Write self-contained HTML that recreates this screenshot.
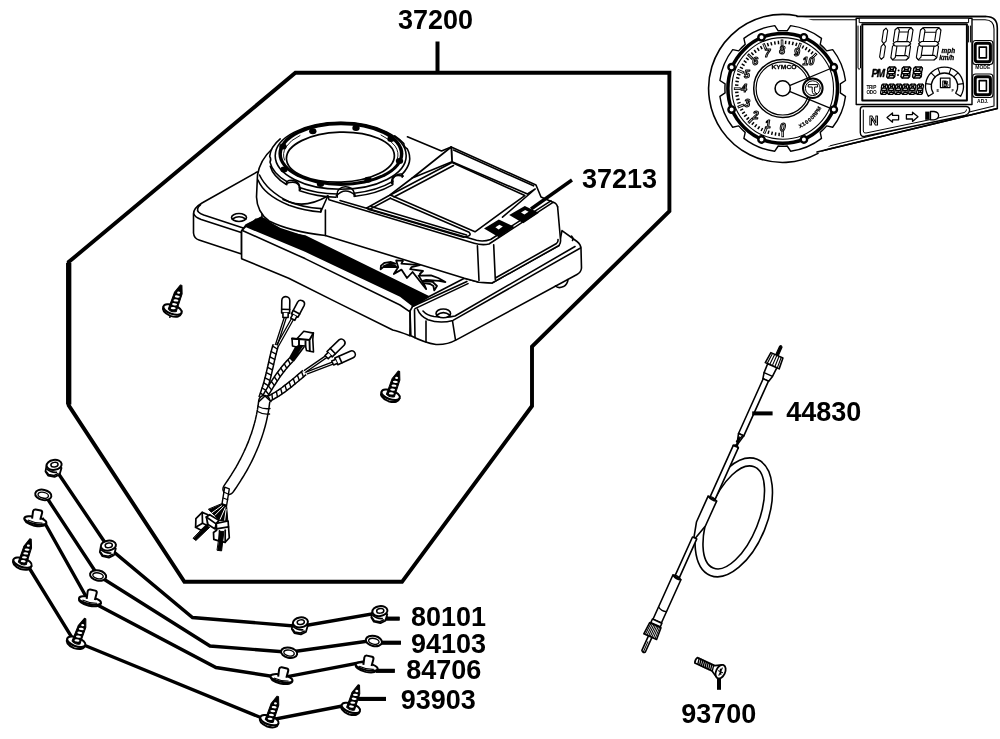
<!DOCTYPE html>
<html><head><meta charset="utf-8"><title>Parts diagram</title>
<style>
html,body{margin:0;padding:0;background:#fff;}
body{width:1000px;height:739px;overflow:hidden;font-family:"Liberation Sans",sans-serif;}
svg{display:block;will-change:transform;transform:translateZ(0);}
.lb{font-family:"Liberation Sans",sans-serif;font-weight:bold;fill:#000;}
.t{fill:none;stroke:#000;stroke-width:1.6;stroke-linejoin:round;stroke-linecap:round;}
.w{fill:#fff;stroke:#000;stroke-width:1.6;stroke-linejoin:round;stroke-linecap:round;}
.k{fill:#000;stroke:none;}
.dn{font-family:"Liberation Sans",sans-serif;font-weight:bold;font-style:italic;font-size:10.5px;fill:#fff;stroke:#000;stroke-width:1;}
</style></head>
<body>
<svg width="1000" height="739" viewBox="0 0 1000 739">
<rect width="1000" height="739" fill="#fff"/>
<g id="unit" class="t">
<!-- base plate back-left -->
<path class="w" d="M257,172 L202,203 Q193.5,208 193.5,214 L193.5,233 Q194,238.5 199,240 L241.5,254 L241.5,231 L246,225 L262,217 L262,172 Z"/>
<path d="M193.7,213.8 Q195,217.3 201.2,219.5 L242,232.7"/>
<path d="M200.5,204.8 Q195.8,208.5 198.5,212 Q200,213.6 203.7,215 L244,228.2"/>
<ellipse class="w" cx="239" cy="217.5" rx="7.5" ry="4"/>
<path d="M232.5,219 Q239,214.5 245.7,219"/>
<!-- front long block -->
<path class="w" d="M241.6,231 L246.5,225.4 L305,236 L428.7,296.8 L412.5,306.6 L410,335.8 Q398,331 392.7,330 L337.4,302.6 L288.7,278.2 L241.6,258.7 Z"/>
<!-- black ribbed band -->
<path class="k" d="M245.5,228 L246.5,224.6 L250,222.4 L252.5,221.6 L255.4,218.4 L258,218.6 L261,216.6 L264.4,218.1 Q272,224 280.6,227.9 L305,236 L428.7,296.8 L412.5,306.6 L400,296.8 L305,251.8 L245.5,227 Z"/>
<path d="M242.4,230.5 L305,258.6 L400,305 L410,311.8"/>
<!-- right corner piece of base -->
<path class="w" d="M412.5,306.6 L428.7,296.8 L464.4,278.2 L479,282.2 L492,283 L559,245.5 L562,230.6 L577,241.5 Q581,244.5 581,249 L581.5,268 Q581,272.5 577,274.5 L456.3,339.9 Q447,345 436,344.5 Q425,343 410.9,335.8 L410,311 Z"/>
<path d="M410,310.6 L410,335.8"/>
<path d="M414.5,309.8 L415,337.8"/>
<path d="M412.5,306.6 L466.9,281.4"/>
<path d="M415,308.6 L468,283.6"/>
<path d="M417.4,309 Q420,316 428,319.8 Q440,324 453,320.4 L580.5,248"/>
<path d="M426,321 L426,342"/>
<path d="M452.5,321 L455.5,340"/>
<path d="M423,311 Q427,315.5 434,316.5 Q447,318 455,316 L575,246.5"/>
<ellipse class="w" cx="443.3" cy="313.4" rx="7.3" ry="4.4"/>
<path d="M437,315 Q443.3,310.3 449.8,315"/>
<path d="M555.5,285.8 Q558,289 563.5,286.6 Q567.5,284.2 568,279.6"/>
<path d="M571.5,236 Q574,238.5 572.5,240.5"/>
<!-- gauge cylinder housing body -->
<path d="M272,149 Q260,160 257.5,175 L256.5,197 Q257,212 269,221 Q290,231.5 325.3,235.5 L325.3,200 L400,200 L400,130 L300,125 Z" style="fill:#fff;stroke:none"/>
<path d="M272,149 Q260,160 257.5,175 L256.5,197 Q257,212 269,221 Q290,231.5 325.3,235.5"/>
<!-- main housing body -->
<path d="M325.3,200 L325.3,235.5 L464.4,278.2 L479,282.2 L492,283 L559,245.5 Q561,243 560.5,239.5 L557.6,206.8 Q556,203 553,202.3 L541,197 L536,185 L451.2,147 L441.5,151 L407.4,136.8 L395,133 L360,160 Z" style="fill:#fff;stroke:none"/>
<path d="M325.3,235.5 L464.4,278.2 L479,282.2 L492,283 L559,245.5 Q561,243 560.5,239.5 L557.6,206.8"/>
<!-- cylinder lip -->
<path d="M258,180 Q264,195 289,205.3 Q305,211 320.7,212 L327.8,196"/>
<path d="M259.5,175 Q267,191 289,201.8 Q306,208.5 327.8,196" />
<path d="M320.7,212 L321.3,208.6 Q303,208 283,199.5"/>
<path d="M325.4,210 L325.4,235.5"/>
<!-- top surface front edges -->
<path d="M327.8,196 L329,199.8 L474.2,243.2 Q482,245.6 489,244 L553,202.3 Q556.5,203 557.6,206.8"/>
<path d="M340,200.5 L476.5,240.3 Q483.5,242 490.6,239.5 L550.9,200.8"/>
<path d="M477.4,245.7 L479,280.5"/>
<path d="M493.7,244.9 L495.3,279.5"/>
<path d="M495.8,277.8 L556.5,243.5 Q558.3,242 558,239.5"/>
<!-- housing top back edge from gauge -->
<path d="M407.4,136.8 L441.5,151 L451.2,147"/>
<!-- display frame -->
<path d="M451.2,147 L536,185 L541,197 L553,202.3"/>
<path d="M453.5,150 L533.5,185.8"/>
<path d="M451.5,148 L452,161.7 L527.5,194 L535.2,189 L502.5,217.2"/>
<path class="w" d="M451.2,147 L412.3,178 L452,161.7 Z"/>
<!-- LCD -->
<path class="w" d="M452,162.5 L524.8,195.6 L475,231.8 L390.3,195 Z"/>
<path d="M453.5,165.5 L394,197"/>
<path d="M412.3,178 L388.7,195.8 L366.8,208"/>
<!-- lower strip panel -->
<path d="M390.3,198.2 L469.1,232.3 Q471.5,234.5 468.5,236 L463.4,237.2 L369.2,209.6 L366.8,208"/>
<path d="M371,206.5 L466.5,235"/>
<path d="M369.2,209.6 L390.3,198.2"/>
<!-- buttons -->
<path class="k" d="M484,228.4 L498.8,219.4 L514.4,226.9 L498.8,237.3 Z"/>
<path class="k" d="M509.2,215 L524.8,206 L539,212.7 L523.3,223.2 Z"/>
<path d="M495.4,227.2 L499.4,224.8 L502.8,226.6 L498.6,229.4 Z" style="fill:#fff;stroke:none"/>
<path d="M521,212.4 L525.2,209.9 L528.6,211.7 L524.4,214.5 Z" style="fill:#fff;stroke:none"/>
</g>

<g id="ring" class="t">
<path d="M394.8,135.8 A70,36 0 0 1 403.8,143.6 A8,6.5 0 0 0 407.4,149.0 A70,36 0 0 1 402.2,174.1 A8,6.5 0 0 0 392.8,181.4 A70,36 0 0 1 354.2,193.2 A8,6.5 0 0 0 337.2,194.0 A70,36 0 0 1 299.4,187.5 A8,6.5 0 0 0 286.8,181.6 A70,36 0 0 1 270.0,162.1 A8,6.5 0 0 0 269.7,156.4 A70,36 0 0 1 280.2,138.9 L340,125 Z" style="fill:#fff;stroke:none"/>
<path d="M394.8,135.8 A70,36 0 0 1 403.8,143.6 A8,6.5 0 0 0 407.4,149.0 A70,36 0 0 1 402.2,174.1 A8,6.5 0 0 0 392.8,181.4 A70,36 0 0 1 354.2,193.2 A8,6.5 0 0 0 337.2,194.0 A70,36 0 0 1 299.4,187.5 A8,6.5 0 0 0 286.8,181.6 A70,36 0 0 1 270.0,162.1 A8,6.5 0 0 0 269.7,156.4 A70,36 0 0 1 280.2,138.9"/>
<path d="M392.0,185.1 A70,36 0 0 1 355.3,196.3"/>
<path d="M335.9,197.2 A70,36 0 0 1 300.5,191.0"/>
<path d="M286.0,184.3 A70,36 0 0 1 270.3,166.2"/>
<path d="M299.4,190.7 L299.4,187.5 M286.8,184.8 L286.8,181.6"/>
<path d="M300.4,189.5 Q298.8,178.8 285.8,183.6"/>
<path d="M354.2,196.4 L354.2,193.2 M337.2,197.2 L337.2,194.0"/>
<path d="M355.2,195.2 Q344.9,186.4 336.2,196.0"/>
<path d="M402.2,177.3 L402.2,174.1 M392.8,184.6 L392.8,181.4"/>
<path d="M403.2,176.1 Q390.5,173.1 391.8,183.4"/>
<ellipse cx="340.7" cy="155.8" rx="65.5" ry="33.5"/>
<ellipse class="k" cx="340.9" cy="153.8" rx="62.5" ry="32.1"/>
<ellipse cx="340.9" cy="154" rx="59" ry="28.7" style="fill:#fff;stroke:none"/>
<path d="M284.5,160 A57,27.4 0 0 1 300,135.5 M381,135 A57,27.4 0 0 1 397.3,159" style="stroke-width:.9"/>
<ellipse class="w" cx="340.4" cy="157.1" rx="54" ry="25" transform="rotate(-1.8 340.4 157.1)" style="stroke-width:1.7"/>
<ellipse class="k" cx="312.8" cy="131.3" rx="3.7" ry="3"/>
<ellipse class="k" cx="356" cy="128" rx="3.7" ry="3"/>
<ellipse class="k" cx="391" cy="139" rx="3.7" ry="3"/>
<ellipse class="k" cx="399.5" cy="161" rx="3.7" ry="3"/>
<ellipse class="k" cx="368" cy="179.7" rx="3.7" ry="3"/>
<ellipse class="k" cx="320.5" cy="184" rx="3.7" ry="3"/>
<ellipse class="k" cx="284" cy="169.5" rx="3.7" ry="3"/>
<ellipse class="k" cx="283" cy="146.5" rx="3.7" ry="3"/>
</g>

<g id="logo" style="fill:#fff;stroke:#000;stroke-width:1.8;stroke-linejoin:round">
<path d="M380.6,269.2 L381.0,265.6 L384.6,262.8 L391.0,262.0 L395.4,263.6 L389.4,264.0 L383.8,266.0 L395.0,265.6 L396.6,267.2 L388.6,266.8 L383.0,267.2 Z"/>
<path d="M396.2,260.4 L403.0,260.8 L401.4,263.6 L419.8,265.2 L411.4,267.2 L410.2,269.2 L423.0,271.0 L419.8,274.0 L426.2,289.2 L412.6,272.0 L407.0,278.0 L401.4,269.6 L393.8,274.0 L398.2,267.2 Z"/>
<path d="M418.6,275.6 L431.0,275.4 L438.2,278.0 L445.4,282.0 L439.0,280.8 L426.2,279.8 L423.0,280.8 L432.6,281.8 L437.0,286.0 L434.2,290.4 L433.4,286.0 L430.2,284.0 L423.0,282.8 Z"/>
</g>

<g id="harness" class="t">
<path d="M284.3,317.2 L275.4,344.7 M286.3,317.8 L277.4,345.3" style="stroke-width:1.3"/>
<path d="M291.2,319.0 L276.6,345.0 M293.2,320.0 L278.6,346.0" style="stroke-width:1.3"/>
<path d="M328.0,354.1 L304.4,370.4 M329.2,355.9 L305.6,372.2" style="stroke-width:1.3"/>
<path d="M334.2,361.3 L306.6,371.9 M335.0,363.3 L307.4,373.9" style="stroke-width:1.3"/>
<path d="M300,345 L290.5,360 M302.5,345.5 L292,361 M297,345 L289.5,358.5 M304,347 L293.5,361 M298.5,345 L290,359.5 M301.5,345.5 L291.5,360.5" style="stroke-width:1.6"/>
<path d="M275.8,345.0 L275.3,346.5 L274.9,348.0 L274.5,349.5 L274.1,351.0 L273.7,352.5 L273.3,354.1 L272.9,355.6 L272.6,357.2 L272.2,358.7 L271.8,360.3 L271.5,361.9 L271.1,363.5 L270.8,365.2 L270.4,366.8 L270.0,368.5 L269.6,370.2 L269.2,372.0 L268.8,373.7 L268.4,375.5 L267.9,377.4 L267.4,379.2 L266.9,381.2 L266.4,383.1 L265.8,385.1 L265.2,387.1 L264.5,389.2 L263.8,391.3 L263.1,393.5 L262.3,395.7 L261.5,398.0" style="fill:none;stroke:#000;stroke-width:6.9;stroke-linecap:butt"/>
<path d="M275.8,345.0 L275.3,346.5 L274.9,348.0 L274.5,349.5 L274.1,351.0 L273.7,352.5 L273.3,354.1 L272.9,355.6 L272.6,357.2 L272.2,358.7 L271.8,360.3 L271.5,361.9 L271.1,363.5 L270.8,365.2 L270.4,366.8 L270.0,368.5 L269.6,370.2 L269.2,372.0 L268.8,373.7 L268.4,375.5 L267.9,377.4 L267.4,379.2 L266.9,381.2 L266.4,383.1 L265.8,385.1 L265.2,387.1 L264.5,389.2 L263.8,391.3 L263.1,393.5 L262.3,395.7 L261.5,398.0" style="fill:none;stroke:#fff;stroke-width:3.9;stroke-linecap:butt"/>
<path d="M277.3,349.0 L272.7,346.2" style="stroke-width:1.4"/>
<path d="M276.0,354.1 L271.2,351.5" style="stroke-width:1.4"/>
<path d="M274.7,359.3 L270.0,356.8" style="stroke-width:1.4"/>
<path d="M273.6,364.6 L268.8,362.1" style="stroke-width:1.4"/>
<path d="M272.4,369.9 L267.6,367.3" style="stroke-width:1.4"/>
<path d="M271.2,375.1 L266.4,372.6" style="stroke-width:1.4"/>
<path d="M269.8,380.4 L265.1,377.8" style="stroke-width:1.4"/>
<path d="M268.3,385.7 L263.7,382.9" style="stroke-width:1.4"/>
<path d="M266.7,390.9 L262.2,388.0" style="stroke-width:1.4"/>
<path d="M265.0,396.1 L260.5,393.1" style="stroke-width:1.4"/>
<path d="M291.0,360.0 L290.0,361.0 L289.0,362.1 L288.0,363.1 L287.1,364.2 L286.1,365.3 L285.1,366.5 L284.2,367.6 L283.2,368.8 L282.3,370.0 L281.3,371.2 L280.4,372.5 L279.4,373.7 L278.5,375.0 L277.6,376.3 L276.7,377.6 L275.8,379.0 L274.9,380.3 L274.0,381.7 L273.1,383.1 L272.2,384.4 L271.3,385.9 L270.4,387.3 L269.5,388.7 L268.7,390.1 L267.8,391.6 L266.9,393.1 L266.1,394.5 L265.2,396.0 L264.4,397.5 L263.5,399.0" style="fill:none;stroke:#000;stroke-width:6.3;stroke-linecap:butt"/>
<path d="M291.0,360.0 L290.0,361.0 L289.0,362.1 L288.0,363.1 L287.1,364.2 L286.1,365.3 L285.1,366.5 L284.2,367.6 L283.2,368.8 L282.3,370.0 L281.3,371.2 L280.4,372.5 L279.4,373.7 L278.5,375.0 L277.6,376.3 L276.7,377.6 L275.8,379.0 L274.9,380.3 L274.0,381.7 L273.1,383.1 L272.2,384.4 L271.3,385.9 L270.4,387.3 L269.5,388.7 L268.7,390.1 L267.8,391.6 L266.9,393.1 L266.1,394.5 L265.2,396.0 L264.4,397.5 L263.5,399.0" style="fill:none;stroke:#fff;stroke-width:3.3;stroke-linecap:butt"/>
<path d="M290.2,364.1 L288.1,359.8" style="stroke-width:1.4"/>
<path d="M286.7,368.1 L284.3,363.9" style="stroke-width:1.4"/>
<path d="M283.4,372.2 L280.8,368.1" style="stroke-width:1.4"/>
<path d="M280.2,376.5 L277.5,372.5" style="stroke-width:1.4"/>
<path d="M277.2,380.9 L274.4,377.0" style="stroke-width:1.4"/>
<path d="M274.3,385.3 L271.4,381.5" style="stroke-width:1.4"/>
<path d="M271.5,389.9 L268.5,386.1" style="stroke-width:1.4"/>
<path d="M268.7,394.5 L265.7,390.8" style="stroke-width:1.4"/>
<path d="M266.0,399.1 L262.9,395.5" style="stroke-width:1.4"/>
<path d="M304.5,372.5 L303.5,373.3 L302.5,374.2 L301.5,375.1 L300.4,376.0 L299.3,377.0 L298.1,377.9 L296.9,379.0 L295.7,380.0 L294.5,381.0 L293.2,382.1 L291.9,383.1 L290.6,384.2 L289.3,385.2 L288.0,386.3 L286.6,387.3 L285.3,388.3 L283.9,389.4 L282.5,390.4 L281.2,391.3 L279.8,392.3 L278.4,393.2 L277.1,394.1 L275.7,394.9 L274.3,395.7 L273.0,396.5 L271.7,397.2 L270.3,397.9 L269.0,398.5 L267.8,399.0 L266.5,399.5" style="fill:none;stroke:#000;stroke-width:6.8;stroke-linecap:butt"/>
<path d="M304.5,372.5 L303.5,373.3 L302.5,374.2 L301.5,375.1 L300.4,376.0 L299.3,377.0 L298.1,377.9 L296.9,379.0 L295.7,380.0 L294.5,381.0 L293.2,382.1 L291.9,383.1 L290.6,384.2 L289.3,385.2 L288.0,386.3 L286.6,387.3 L285.3,388.3 L283.9,389.4 L282.5,390.4 L281.2,391.3 L279.8,392.3 L278.4,393.2 L277.1,394.1 L275.7,394.9 L274.3,395.7 L273.0,396.5 L271.7,397.2 L270.3,397.9 L269.0,398.5 L267.8,399.0 L266.5,399.5" style="fill:none;stroke:#fff;stroke-width:3.8;stroke-linecap:butt"/>
<path d="M303.4,376.7 L301.5,371.8" style="stroke-width:1.4"/>
<path d="M299.3,380.2 L297.4,375.3" style="stroke-width:1.4"/>
<path d="M295.1,383.7 L293.3,378.7" style="stroke-width:1.4"/>
<path d="M290.9,387.2 L289.2,382.1" style="stroke-width:1.4"/>
<path d="M286.6,390.5 L285.0,385.4" style="stroke-width:1.4"/>
<path d="M282.1,393.7 L280.7,388.6" style="stroke-width:1.4"/>
<path d="M277.5,396.8 L276.4,391.6" style="stroke-width:1.4"/>
<path d="M272.6,399.5 L271.9,394.3" style="stroke-width:1.4"/>
<path d="M267.4,401.8 L267.3,396.5" style="stroke-width:1.4"/>
<path d="M264.3,401.0 L264.1,402.4 L263.9,403.9 L263.7,405.5 L263.5,407.0 L263.2,408.6 L263.0,410.3 L262.7,412.0 L262.3,413.7 L262.0,415.5 L261.6,417.3 L261.2,419.1 L260.8,421.0 L260.3,422.9 L259.8,424.9 L259.2,426.9 L258.6,429.0 L258.0,431.0 L257.3,433.2 L256.6,435.3 L255.8,437.5 L255.0,439.7 L254.2,442.0 L253.3,444.3 L252.3,446.6 L251.3,449.0 L250.2,451.4 L249.1,453.9 L247.9,456.4 L246.7,458.9 L245.4,461.5 L244.0,464.1 L242.6,466.7 L241.1,469.4 L239.5,472.1 L237.8,474.8 L236.1,477.6 L234.3,480.4 L232.5,483.2 L230.5,486.1 L228.5,489.0" style="fill:none;stroke:#000;stroke-width:12.6;stroke-linecap:round"/>
<path d="M264.3,401.0 L264.1,402.4 L263.9,403.9 L263.7,405.5 L263.5,407.0 L263.2,408.6 L263.0,410.3 L262.7,412.0 L262.3,413.7 L262.0,415.5 L261.6,417.3 L261.2,419.1 L260.8,421.0 L260.3,422.9 L259.8,424.9 L259.2,426.9 L258.6,429.0 L258.0,431.0 L257.3,433.2 L256.6,435.3 L255.8,437.5 L255.0,439.7 L254.2,442.0 L253.3,444.3 L252.3,446.6 L251.3,449.0 L250.2,451.4 L249.1,453.9 L247.9,456.4 L246.7,458.9 L245.4,461.5 L244.0,464.1 L242.6,466.7 L241.1,469.4 L239.5,472.1 L237.8,474.8 L236.1,477.6 L234.3,480.4 L232.5,483.2 L230.5,486.1 L228.5,489.0" style="fill:none;stroke:#fff;stroke-width:9.6;stroke-linecap:round"/>
<path d="M258.2,406.5 Q264,409.5 270,408.5 M257.7,411.5 Q263.5,415 269.6,414" style="stroke-width:1.3"/>
<path d="M259,401.5 L265,396 L271,401.5" class="w"/>
<path class="w" d="M281.8,300.5 L281.6,312.9 L289.6,313.1 L289.8,300.7 A4.0,4.0 0 0 0 281.8,300.5 Z"/>
<path d="M281.7,309.3 L289.7,309.5"/>
<path class="w" d="M283.0,313.0 L282.9,317.5 L288.1,317.5 L288.2,313.0"/>
<path class="w" d="M297.6,302.1 L291.4,313.8 L298.0,317.2 L304.1,305.6 A3.7,3.7 0 0 0 297.6,302.1 Z"/>
<path d="M293.2,310.5 L299.7,314.0"/>
<path class="w" d="M292.7,314.4 L290.7,318.1 L294.8,320.3 L296.7,316.6"/>
<path class="w" d="M339.0,339.9 L327.0,351.5 L332.2,356.9 L344.1,345.2 A3.7,3.7 0 0 0 339.0,339.9 Z"/>
<path d="M330.2,348.4 L335.4,353.7"/>
<path class="w" d="M328.0,352.6 L325.0,355.5 L328.2,358.8 L331.2,355.8"/>
<path class="w" d="M350.2,351.2 L334.8,358.1 L337.8,364.7 L353.2,357.8 A3.6,3.6 0 0 0 350.2,351.2 Z"/>
<path d="M338.9,356.3 L341.9,362.8"/>
<path class="w" d="M335.4,359.4 L331.7,361.0 L333.6,365.0 L337.2,363.4"/>
<g style="stroke-width:1.9">
<path class="w" d="M303.8,331.3 L313.3,333.1 L312.8,339.5 L313.5,352 L306.5,350.5 L305.5,346 L299,345.5 L296.5,347 L292.5,346 L292,338.5 L297,338.8 Z"/>
<path d="M297,338.8 L309.5,340 L313.3,333.1 M309.5,340 L309.8,351 M305.5,346 L305.5,340 M299,345.5 L299,339.5 M292,338.5 L296.5,339"/>
</g>
<path d="M224.7,487.1 L229.3,488.8 L226.6,505.5 L222.0,503.8 Z" style="fill:#fff;stroke:#000;stroke-width:1.4"/>
<path d="M224.1,492.2 L228.7,494.3" style="stroke-width:1.1"/>
<path d="M223.2,498.0 L227.8,499.8" style="stroke-width:1.1"/>
<path d="M222.0,503.8 L226.6,505.5 L227.8,521.0 L219.5,520.4 L208.6,509.5 Z" style="fill:#000;stroke:#000;stroke-width:1"/>
<path d="M221.6,505.8 L211.7,513.0" style="stroke:#fff;stroke-width:1"/>
<path d="M223.5,506.6 L215.1,515.2" style="stroke:#fff;stroke-width:1"/>
<path d="M225.2,507.8 L220.1,519.3" style="stroke:#fff;stroke-width:1"/>
<path d="M226.1,509.5 L224.7,520.1" style="stroke:#fff;stroke-width:1"/>
<g style="stroke-width:1.7;fill:#fff">
<path d="M195.9,518.7 L202.2,512.4 L208.0,514.7 L207.4,525.6 L201.1,530.2 L195.6,527.3 Z"/>
<path d="M202.2,512.4 L202.5,523.3 L207.4,525.6" style="fill:none"/>
<path d="M202.5,523.3 L195.6,527.3" style="fill:none"/>
<path d="M206.3,517.0 L209.7,514.7 L218.9,520.4 L216.1,523.9 L215.1,529.0 L208.0,524.5 Z"/>
<path d="M206.3,517.0 L216.1,523.9" style="fill:none"/>
<path d="M216.3,523.3 L228.1,521.0 L229.3,537.7 L225.2,542.3 L219.5,541.1 L213.8,539.4 L213.5,532.5 L216.6,530.2 Z"/>
<path d="M216.3,528.8 L228.5,526.8" style="fill:none"/>
<path d="M219.5,530.8 L219.5,541.1" style="fill:none"/>
<path d="M225.2,530.2 L225.2,542.3" style="fill:none"/>
</g>
<path d="M205.7,525.6 L209.7,527.3 L195.9,540.5 L193.3,538.5 Z" style="fill:#000;stroke:#000;stroke-width:1"/>
<path d="M220.1,531.4 L223.9,531.4 L221.6,550.9 L217.4,550.3 Z" style="fill:#000;stroke:#000;stroke-width:1"/>
</g>

<g id="fasteners">
<path d="M56,470 L108,547 L192.5,617.5 L300,626.5 L380,612.5 L387.5,618.6 L399.6,618.6" style="fill:none;stroke:#000;stroke-width:3.4;stroke-linejoin:miter"/>
<path d="M47,498 L98,575.5 L210,646 L289,652.3 L374,640.2 L381.5,642.6 L400.9,642.6" style="fill:none;stroke:#000;stroke-width:3.4;stroke-linejoin:miter"/>
<path d="M42,518 L88,600 L216,667.5 L281,677.8 L366,661.5 L377,670.7 L394.6,670.7" style="fill:none;stroke:#000;stroke-width:3.4;stroke-linejoin:miter"/>
<path d="M28,566 L74,641 L268,720.5 L350,704.5" style="fill:none;stroke:#000;stroke-width:3.4;stroke-linejoin:miter"/>
<path d="M358.2,698.9 L386,698.9" style="fill:none;stroke:#000;stroke-width:3.4;stroke-linejoin:miter"/>
<path d="M386,618.6 L399.6,618.6" style="stroke:#000;stroke-width:4.1"/>
<path d="M380,642.7 L400.9,642.7" style="stroke:#000;stroke-width:4.1"/>
<path d="M376,670.8 L394.8,670.8" style="stroke:#000;stroke-width:4.1"/>
<path d="M358.2,698.9 L386,698.9" style="stroke:#000;stroke-width:4.1"/>
<g transform="translate(54.1,464.9)"><path d="M-7.6,1 L-8.6,6.5 L-6,10.6 L0.5,12 L5.5,9.6 L7.4,3 Z" style="fill:#fff;stroke:#000;stroke-width:1.8;stroke-linejoin:round"/><path d="M-8,6.5 L-5.6,9.6 L0,10.6 L4.5,8.5 M-7.5,4 Q-3,8 3,7.4" style="fill:none;stroke:#000;stroke-width:1.6"/><ellipse cx="0" cy="0" rx="7.6" ry="5" transform="rotate(-8)" style="fill:#fff;stroke:#000;stroke-width:2"/><ellipse cx="0.4" cy="-0.2" rx="3.6" ry="2.3" transform="rotate(-8)" style="fill:#fff;stroke:#000;stroke-width:1.5"/></g>
<g transform="translate(108.4,545.6)"><path d="M-7.6,1 L-8.6,6.5 L-6,10.6 L0.5,12 L5.5,9.6 L7.4,3 Z" style="fill:#fff;stroke:#000;stroke-width:1.8;stroke-linejoin:round"/><path d="M-8,6.5 L-5.6,9.6 L0,10.6 L4.5,8.5 M-7.5,4 Q-3,8 3,7.4" style="fill:none;stroke:#000;stroke-width:1.6"/><ellipse cx="0" cy="0" rx="7.6" ry="5" transform="rotate(-8)" style="fill:#fff;stroke:#000;stroke-width:2"/><ellipse cx="0.4" cy="-0.2" rx="3.6" ry="2.3" transform="rotate(-8)" style="fill:#fff;stroke:#000;stroke-width:1.5"/></g>
<g transform="translate(300.4,622.4)"><path d="M-7.6,1 L-8.6,6.5 L-6,10.6 L0.5,12 L5.5,9.6 L7.4,3 Z" style="fill:#fff;stroke:#000;stroke-width:1.8;stroke-linejoin:round"/><path d="M-8,6.5 L-5.6,9.6 L0,10.6 L4.5,8.5 M-7.5,4 Q-3,8 3,7.4" style="fill:none;stroke:#000;stroke-width:1.6"/><ellipse cx="0" cy="0" rx="7.6" ry="5" transform="rotate(-8)" style="fill:#fff;stroke:#000;stroke-width:2"/><ellipse cx="0.4" cy="-0.2" rx="3.6" ry="2.3" transform="rotate(-8)" style="fill:#fff;stroke:#000;stroke-width:1.5"/></g>
<g transform="translate(379.9,611.1)"><path d="M-7.6,1 L-8.6,6.5 L-6,10.6 L0.5,12 L5.5,9.6 L7.4,3 Z" style="fill:#fff;stroke:#000;stroke-width:1.8;stroke-linejoin:round"/><path d="M-8,6.5 L-5.6,9.6 L0,10.6 L4.5,8.5 M-7.5,4 Q-3,8 3,7.4" style="fill:none;stroke:#000;stroke-width:1.6"/><ellipse cx="0" cy="0" rx="7.6" ry="5" transform="rotate(-8)" style="fill:#fff;stroke:#000;stroke-width:2"/><ellipse cx="0.4" cy="-0.2" rx="3.6" ry="2.3" transform="rotate(-8)" style="fill:#fff;stroke:#000;stroke-width:1.5"/></g>
<g transform="translate(43.3,494.9) rotate(12)"><ellipse rx="8.2" ry="5.1" style="fill:#fff;stroke:#000;stroke-width:2"/><ellipse rx="5.3" ry="2.9" cy="0.3" style="fill:#fff;stroke:#000;stroke-width:1.4"/></g>
<g transform="translate(98.1,575.5) rotate(12)"><ellipse rx="8.2" ry="5.1" style="fill:#fff;stroke:#000;stroke-width:2"/><ellipse rx="5.3" ry="2.9" cy="0.3" style="fill:#fff;stroke:#000;stroke-width:1.4"/></g>
<g transform="translate(289.1,652.7) rotate(12)"><ellipse rx="8.2" ry="5.1" style="fill:#fff;stroke:#000;stroke-width:2"/><ellipse rx="5.3" ry="2.9" cy="0.3" style="fill:#fff;stroke:#000;stroke-width:1.4"/></g>
<g transform="translate(373.9,641.0) rotate(12)"><ellipse rx="8.2" ry="5.1" style="fill:#fff;stroke:#000;stroke-width:2"/><ellipse rx="5.3" ry="2.9" cy="0.3" style="fill:#fff;stroke:#000;stroke-width:1.4"/></g>
<g transform="translate(35.4,520.4) rotate(12)"><path d="M-11.2,0 Q-11.5,4.5 0,5.4 Q11.5,4.8 11.2,0" style="fill:#fff;stroke:#000;stroke-width:2"/><ellipse rx="11.2" ry="3.6" style="fill:#fff;stroke:#000;stroke-width:2"/><path d="M-3.6,-1 L-4.2,-8.5 Q-4.2,-10.6 -2,-10.8 L3.2,-10.8 Q5.2,-10.6 5,-8.4 L4.6,-1.6" style="fill:#fff;stroke:#000;stroke-width:2"/><path d="M-7.5,1.2 Q0,3 7.5,1.2" style="fill:none;stroke:#000;stroke-width:1.1"/></g>
<g transform="translate(90.0,600.5) rotate(12)"><path d="M-11.2,0 Q-11.5,4.5 0,5.4 Q11.5,4.8 11.2,0" style="fill:#fff;stroke:#000;stroke-width:2"/><ellipse rx="11.2" ry="3.6" style="fill:#fff;stroke:#000;stroke-width:2"/><path d="M-3.6,-1 L-4.2,-8.5 Q-4.2,-10.6 -2,-10.8 L3.2,-10.8 Q5.2,-10.6 5,-8.4 L4.6,-1.6" style="fill:#fff;stroke:#000;stroke-width:2"/><path d="M-7.5,1.2 Q0,3 7.5,1.2" style="fill:none;stroke:#000;stroke-width:1.1"/></g>
<g transform="translate(281.5,678.3) rotate(12)"><path d="M-11.2,0 Q-11.5,4.5 0,5.4 Q11.5,4.8 11.2,0" style="fill:#fff;stroke:#000;stroke-width:2"/><ellipse rx="11.2" ry="3.6" style="fill:#fff;stroke:#000;stroke-width:2"/><path d="M-3.6,-1 L-4.2,-8.5 Q-4.2,-10.6 -2,-10.8 L3.2,-10.8 Q5.2,-10.6 5,-8.4 L4.6,-1.6" style="fill:#fff;stroke:#000;stroke-width:2"/><path d="M-7.5,1.2 Q0,3 7.5,1.2" style="fill:none;stroke:#000;stroke-width:1.1"/></g>
<g transform="translate(366.7,666.6) rotate(12)"><path d="M-11.2,0 Q-11.5,4.5 0,5.4 Q11.5,4.8 11.2,0" style="fill:#fff;stroke:#000;stroke-width:2"/><ellipse rx="11.2" ry="3.6" style="fill:#fff;stroke:#000;stroke-width:2"/><path d="M-3.6,-1 L-4.2,-8.5 Q-4.2,-10.6 -2,-10.8 L3.2,-10.8 Q5.2,-10.6 5,-8.4 L4.6,-1.6" style="fill:#fff;stroke:#000;stroke-width:2"/><path d="M-7.5,1.2 Q0,3 7.5,1.2" style="fill:none;stroke:#000;stroke-width:1.1"/></g>
<g transform="translate(22.3,563.3) rotate(18.4)">
<path d="M-9.6,-0.6 Q-10,5.2 0,6 Q10,5.4 9.6,-0.6" style="fill:#fff;stroke:#000;stroke-width:2"/>
<ellipse cx="0" cy="-0.8" rx="9.6" ry="4.4" style="fill:#fff;stroke:#000;stroke-width:2"/>
<path d="M-6.5,3 Q0,5 6.5,2.6" style="fill:none;stroke:#000;stroke-width:1.1"/>
<path d="M-4.2,0 L-3.9,-16.6 L-0.6,-25.6 L0.9,-25.6 L3.9,-17.6 L4.2,0 Q0,2.6 -4.2,0 Z" style="fill:#000;stroke:#000;stroke-width:1;stroke-linejoin:round"/>
<ellipse cx="0.2" cy="-2.2" rx="2.5" ry="1.15" transform="rotate(-14 0 -2.2)" style="fill:#fff;stroke:none"/>
<ellipse cx="0.2" cy="-6.3" rx="2.5" ry="1.15" transform="rotate(-14 0 -6.3)" style="fill:#fff;stroke:none"/>
<ellipse cx="0.2" cy="-10.4" rx="2.5" ry="1.15" transform="rotate(-14 0 -10.4)" style="fill:#fff;stroke:none"/>
<ellipse cx="0.2" cy="-14.5" rx="2.5" ry="1.15" transform="rotate(-14 0 -14.5)" style="fill:#fff;stroke:none"/>
<ellipse cx="0.2" cy="-18.6" rx="1.5" ry="1.15" transform="rotate(-14 0 -18.6)" style="fill:#fff;stroke:none"/>
</g>
<g transform="translate(76.0,642.5) rotate(20.6)">
<path d="M-9.6,-0.6 Q-10,5.2 0,6 Q10,5.4 9.6,-0.6" style="fill:#fff;stroke:#000;stroke-width:2"/>
<ellipse cx="0" cy="-0.8" rx="9.6" ry="4.4" style="fill:#fff;stroke:#000;stroke-width:2"/>
<path d="M-6.5,3 Q0,5 6.5,2.6" style="fill:none;stroke:#000;stroke-width:1.1"/>
<path d="M-4.2,0 L-3.9,-16.6 L-0.6,-25.6 L0.9,-25.6 L3.9,-17.6 L4.2,0 Q0,2.6 -4.2,0 Z" style="fill:#000;stroke:#000;stroke-width:1;stroke-linejoin:round"/>
<ellipse cx="0.2" cy="-2.2" rx="2.5" ry="1.15" transform="rotate(-14 0 -2.2)" style="fill:#fff;stroke:none"/>
<ellipse cx="0.2" cy="-6.3" rx="2.5" ry="1.15" transform="rotate(-14 0 -6.3)" style="fill:#fff;stroke:none"/>
<ellipse cx="0.2" cy="-10.4" rx="2.5" ry="1.15" transform="rotate(-14 0 -10.4)" style="fill:#fff;stroke:none"/>
<ellipse cx="0.2" cy="-14.5" rx="2.5" ry="1.15" transform="rotate(-14 0 -14.5)" style="fill:#fff;stroke:none"/>
<ellipse cx="0.2" cy="-18.6" rx="1.5" ry="1.15" transform="rotate(-14 0 -18.6)" style="fill:#fff;stroke:none"/>
</g>
<g transform="translate(269.2,720.9) rotate(19.1)">
<path d="M-9.6,-0.6 Q-10,5.2 0,6 Q10,5.4 9.6,-0.6" style="fill:#fff;stroke:#000;stroke-width:2"/>
<ellipse cx="0" cy="-0.8" rx="9.6" ry="4.4" style="fill:#fff;stroke:#000;stroke-width:2"/>
<path d="M-6.5,3 Q0,5 6.5,2.6" style="fill:none;stroke:#000;stroke-width:1.1"/>
<path d="M-4.2,0 L-3.9,-17.0 L-0.6,-26.0 L0.9,-26.0 L3.9,-18.0 L4.2,0 Q0,2.6 -4.2,0 Z" style="fill:#000;stroke:#000;stroke-width:1;stroke-linejoin:round"/>
<ellipse cx="0.2" cy="-2.2" rx="2.5" ry="1.15" transform="rotate(-14 0 -2.2)" style="fill:#fff;stroke:none"/>
<ellipse cx="0.2" cy="-6.3" rx="2.5" ry="1.15" transform="rotate(-14 0 -6.3)" style="fill:#fff;stroke:none"/>
<ellipse cx="0.2" cy="-10.4" rx="2.5" ry="1.15" transform="rotate(-14 0 -10.4)" style="fill:#fff;stroke:none"/>
<ellipse cx="0.2" cy="-14.5" rx="2.5" ry="1.15" transform="rotate(-14 0 -14.5)" style="fill:#fff;stroke:none"/>
<ellipse cx="0.2" cy="-18.6" rx="1.5" ry="1.15" transform="rotate(-14 0 -18.6)" style="fill:#fff;stroke:none"/>
</g>
<g transform="translate(350.6,708.6) rotate(18.9)">
<path d="M-9.6,-0.6 Q-10,5.2 0,6 Q10,5.4 9.6,-0.6" style="fill:#fff;stroke:#000;stroke-width:2"/>
<ellipse cx="0" cy="-0.8" rx="9.6" ry="4.4" style="fill:#fff;stroke:#000;stroke-width:2"/>
<path d="M-6.5,3 Q0,5 6.5,2.6" style="fill:none;stroke:#000;stroke-width:1.1"/>
<path d="M-4.2,0 L-3.9,-16.0 L-0.6,-25.0 L0.9,-25.0 L3.9,-17.0 L4.2,0 Q0,2.6 -4.2,0 Z" style="fill:#000;stroke:#000;stroke-width:1;stroke-linejoin:round"/>
<ellipse cx="0.2" cy="-2.2" rx="2.5" ry="1.15" transform="rotate(-14 0 -2.2)" style="fill:#fff;stroke:none"/>
<ellipse cx="0.2" cy="-6.3" rx="2.5" ry="1.15" transform="rotate(-14 0 -6.3)" style="fill:#fff;stroke:none"/>
<ellipse cx="0.2" cy="-10.4" rx="2.5" ry="1.15" transform="rotate(-14 0 -10.4)" style="fill:#fff;stroke:none"/>
<ellipse cx="0.2" cy="-14.5" rx="2.5" ry="1.15" transform="rotate(-14 0 -14.5)" style="fill:#fff;stroke:none"/>
<ellipse cx="0.2" cy="-18.6" rx="1.5" ry="1.15" transform="rotate(-14 0 -18.6)" style="fill:#fff;stroke:none"/>
</g>
<g transform="translate(172.3,310.2) rotate(19.3)">
<path d="M-9.6,-0.6 Q-10,5.2 0,6 Q10,5.4 9.6,-0.6" style="fill:#fff;stroke:#000;stroke-width:2"/>
<ellipse cx="0" cy="-0.8" rx="9.6" ry="4.4" style="fill:#fff;stroke:#000;stroke-width:2"/>
<path d="M-6.5,3 Q0,5 6.5,2.6" style="fill:none;stroke:#000;stroke-width:1.1"/>
<path d="M-4.2,0 L-3.9,-17.6 L-0.6,-26.6 L0.9,-26.6 L3.9,-18.6 L4.2,0 Q0,2.6 -4.2,0 Z" style="fill:#000;stroke:#000;stroke-width:1;stroke-linejoin:round"/>
<ellipse cx="0.2" cy="-2.2" rx="2.5" ry="1.15" transform="rotate(-14 0 -2.2)" style="fill:#fff;stroke:none"/>
<ellipse cx="0.2" cy="-6.3" rx="2.5" ry="1.15" transform="rotate(-14 0 -6.3)" style="fill:#fff;stroke:none"/>
<ellipse cx="0.2" cy="-10.4" rx="2.5" ry="1.15" transform="rotate(-14 0 -10.4)" style="fill:#fff;stroke:none"/>
<ellipse cx="0.2" cy="-14.5" rx="2.5" ry="1.15" transform="rotate(-14 0 -14.5)" style="fill:#fff;stroke:none"/>
<ellipse cx="0.2" cy="-18.6" rx="1.5" ry="1.15" transform="rotate(-14 0 -18.6)" style="fill:#fff;stroke:none"/>
</g>
<path d="M170.2,315.5 L169.8,318" style="stroke:#000;stroke-width:1.4"/>
<g transform="translate(390.4,395.5) rotate(19.1)">
<path d="M-9.6,-0.6 Q-10,5.2 0,6 Q10,5.4 9.6,-0.6" style="fill:#fff;stroke:#000;stroke-width:2"/>
<ellipse cx="0" cy="-0.8" rx="9.6" ry="4.4" style="fill:#fff;stroke:#000;stroke-width:2"/>
<path d="M-6.5,3 Q0,5 6.5,2.6" style="fill:none;stroke:#000;stroke-width:1.1"/>
<path d="M-4.2,0 L-3.9,-16.7 L-0.6,-25.7 L0.9,-25.7 L3.9,-17.7 L4.2,0 Q0,2.6 -4.2,0 Z" style="fill:#000;stroke:#000;stroke-width:1;stroke-linejoin:round"/>
<ellipse cx="0.2" cy="-2.2" rx="2.5" ry="1.15" transform="rotate(-14 0 -2.2)" style="fill:#fff;stroke:none"/>
<ellipse cx="0.2" cy="-6.3" rx="2.5" ry="1.15" transform="rotate(-14 0 -6.3)" style="fill:#fff;stroke:none"/>
<ellipse cx="0.2" cy="-10.4" rx="2.5" ry="1.15" transform="rotate(-14 0 -10.4)" style="fill:#fff;stroke:none"/>
<ellipse cx="0.2" cy="-14.5" rx="2.5" ry="1.15" transform="rotate(-14 0 -14.5)" style="fill:#fff;stroke:none"/>
<ellipse cx="0.2" cy="-18.6" rx="1.5" ry="1.15" transform="rotate(-14 0 -18.6)" style="fill:#fff;stroke:none"/>
</g>
</g>

<g id="cable" class="t" style="stroke-width:1.3">
<g transform="translate(733.75,517.4) rotate(-68)"><ellipse rx="62.6" ry="33.2" class="w"/><ellipse rx="54.6" ry="24.8" class="w"/></g>
<g transform="translate(761.3,390) rotate(24.25)">
<rect x="-16" y="62" width="16" height="101" style="fill:#fff;stroke:none"/>
<path d="M-1.3,-38 L-1.3,-47.5 Q0,-49.5 1.3,-47.5 L1.3,-38 Z" style="fill:#000;stroke:#000;stroke-width:1.2"/>
<path class="w" d="M-6.6,-38 L6.6,-38 L7.6,-26.6 L-7.6,-26.6 Z"/>
<path d="M-4.8,-37.5 L-5.5,-27" style="stroke-width:1.1"/>
<path d="M-2.4,-37.5 L-2.8,-27" style="stroke-width:1.1"/>
<path d="M0,-37.5 L0.0,-27" style="stroke-width:1.1"/>
<path d="M2.4,-37.5 L2.8,-27" style="stroke-width:1.1"/>
<path d="M4.8,-37.5 L5.5,-27" style="stroke-width:1.1"/>
<path class="w" d="M-5,-26.6 L5,-26.6 L4.6,-17 L3.2,-11 L-3.2,-11 L-4.6,-17 Z"/>
<path d="M-4.6,-17 L4.6,-17" />
<rect x="-2.90" y="-11.0" width="5.80" height="60.0" class="w" />
<path d="M-2.9,49 L0.4,60.5 L2.9,49 Z" class="w"/>
<path d="M-1,52 L0.8,61.5 L0.2,53 M1.6,50 L-1.4,57" style="stroke-width:1.6"/>
<rect x="-2.80" y="62.0" width="5.60" height="57.0" class="w" />
<path d="M-2.8,62 L0.5,60 L2.8,62.5" class="t"/>
<path class="w" d="M-4.9,118.6 Q0,121.6 4.9,119.6 L4.9,147 L0.6,163 L-0.6,163 L-4.9,147 Z"/>
<path d="M-4.9,118.6 Q0,116.6 4.9,119.6" />
<rect x="-2.35" y="162.3" width="4.70" height="43.2" class="w" />
<path class="w" d="M-4.6,205 Q0,208 4.6,206 L4.6,253.5 L-4.6,253.5 Z"/>
<path d="M-4.6,205 Q0,203 4.6,206" />
<path d="M-4.6,240 Q0,243 4.6,241" />
<path class="w" d="M-5.2,253.5 L5.2,253.5 L5.2,257.5 L-5.2,257.5 Z"/>
<path class="w" d="M-6.2,258 L6.2,258 L7,270.5 L-7,270.5 Z"/>
<path d="M-4.8,258.5 L-5.3,270" style="stroke-width:1"/>
<path d="M-3.2,258.5 L-3.5,270" style="stroke-width:1"/>
<path d="M-1.6,258.5 L-1.8,270" style="stroke-width:1"/>
<path d="M0,258.5 L0.0,270" style="stroke-width:1"/>
<path d="M1.6,258.5 L1.8,270" style="stroke-width:1"/>
<path d="M3.2,258.5 L3.5,270" style="stroke-width:1"/>
<path d="M4.8,258.5 L5.3,270" style="stroke-width:1"/>
<path class="w" d="M-1.9,270.5 L1.9,270.5 L1.9,286.5 Q0,289 -1.9,286.5 Z"/>
<path d="M0,276 L0,287" style="stroke-width:1"/>
</g>
<g transform="translate(720.6,671.7) rotate(24.9)">
<path class="w" d="M-27,-3 L-8,-3 L-1,-7 L-1,7 L-8,3 L-27,3 Q-28.5,0 -27,-3 Z" style="stroke-width:1.7"/>
<path d="M-25,-3 L-23.8,3" style="stroke-width:1.4"/>
<path d="M-23,-3 L-21.8,3" style="stroke-width:1.4"/>
<path d="M-21,-3 L-19.8,3" style="stroke-width:1.4"/>
<path d="M-19,-3 L-17.8,3" style="stroke-width:1.4"/>
<path d="M-17,-3 L-15.8,3" style="stroke-width:1.4"/>
<path d="M-15,-3 L-13.8,3" style="stroke-width:1.4"/>
<path d="M-13,-3 L-11.8,3" style="stroke-width:1.4"/>
<path d="M-11,-3 L-9.8,3" style="stroke-width:1.4"/>
<path d="M-9,-3 L-7.8,3" style="stroke-width:1.4"/>
<ellipse class="w" cx="0" cy="0" rx="4.5" ry="7.2" style="stroke-width:1.8"/>
<path d="M0,-4 L0,4 M-2.2,0 L2.2,0 M-1.4,-2.4 L1.4,2.4" style="stroke-width:1.1"/>
</g>
</g>

<g id="gauge" class="t">
<path class="w" d="M797,16.5 L986,16.5 Q997.3,16.5 997.3,28 L997.3,108.5 L817,152 Z" style="stroke-width:1.6"/>
<path d="M800,19.8 L985,19.8 Q994,20 994,29 L994,106 L823,147.5" style="stroke-width:1.1"/>
<path d="M819,140.5 L823,148.5" style="stroke-width:1.1"/>
<path d="M796.5,20 L800,27" style="stroke-width:1.1"/>
<circle cx="782.7" cy="88.4" r="74" style="fill:#fff;stroke:none"/>
<path d="M796.8,15.8 A74,74 0 1 0 818.0,153.4" style="stroke-width:1.6"/>
<path d="M797,16.5 L986,16.5 M817,152 L997.3,108.5" style="stroke-width:1.6"/>
<path class="w" d="M845.5,96.3 A63.3,63.3 0 0 1 832.7,127.2 L826.7,125.9 A57.8,57.8 0 0 1 820.2,132.4 L821.5,138.4 A63.3,63.3 0 0 1 790.6,151.2 L787.2,146.0 A57.8,57.8 0 0 1 778.2,146.0 L774.8,151.2 A63.3,63.3 0 0 1 743.9,138.4 L745.2,132.4 A57.8,57.8 0 0 1 738.7,125.9 L732.7,127.2 A63.3,63.3 0 0 1 719.9,96.3 L725.1,92.9 A57.8,57.8 0 0 1 725.1,83.9 L719.9,80.5 A63.3,63.3 0 0 1 732.7,49.6 L738.7,50.9 A57.8,57.8 0 0 1 745.2,44.4 L743.9,38.4 A63.3,63.3 0 0 1 774.8,25.6 L778.2,30.8 A57.8,57.8 0 0 1 787.2,30.8 L790.6,25.6 A63.3,63.3 0 0 1 821.5,38.4 L820.2,44.4 A57.8,57.8 0 0 1 826.7,50.9 L832.7,49.6 A63.3,63.3 0 0 1 845.5,80.5 L840.3,83.9 A57.8,57.8 0 0 1 840.3,92.9 Z" style="stroke-width:1.4"/>
<circle cx="782.7" cy="88.4" r="54.8" style="stroke-width:3.5;fill:#fff"/>
<circle cx="782.7" cy="88.4" r="50.8" style="stroke-width:1.1"/>
<circle cx="833.8" cy="109.6" r="3.2" style="fill:#fff;stroke-width:2.4"/>
<circle cx="803.9" cy="139.5" r="3.2" style="fill:#fff;stroke-width:2.4"/>
<circle cx="761.5" cy="139.5" r="3.2" style="fill:#fff;stroke-width:2.4"/>
<circle cx="731.6" cy="109.6" r="3.2" style="fill:#fff;stroke-width:2.4"/>
<circle cx="731.6" cy="67.2" r="3.2" style="fill:#fff;stroke-width:2.4"/>
<circle cx="761.5" cy="37.3" r="3.2" style="fill:#fff;stroke-width:2.4"/>
<circle cx="803.9" cy="37.3" r="3.2" style="fill:#fff;stroke-width:2.4"/>
<circle cx="833.8" cy="67.2" r="3.2" style="fill:#fff;stroke-width:2.4"/>
<path d="M782.7,130.4 L782.7,137.2" style="stroke-width:2.6;stroke-linecap:butt"/>
<path d="M782.7,131.2 L782.7,136.4" style="stroke:#fff;stroke-width:0.9;stroke-linecap:butt"/>
<path d="M779.2,132.7 L779.0,136.1" style="stroke-width:1.5;stroke-linecap:butt"/>
<path d="M775.8,132.3 L775.3,135.6" style="stroke-width:1.5;stroke-linecap:butt"/>
<path d="M772.4,131.6 L771.6,134.9" style="stroke-width:1.5;stroke-linecap:butt"/>
<path d="M769.0,130.6 L768.0,133.9" style="stroke-width:1.5;stroke-linecap:butt"/>
<path d="M766.7,127.2 L764.1,133.5" style="stroke-width:2.6;stroke-linecap:butt"/>
<path d="M766.4,128.0 L764.4,132.8" style="stroke:#fff;stroke-width:0.9;stroke-linecap:butt"/>
<path d="M762.6,128.0 L761.1,131.0" style="stroke-width:1.5;stroke-linecap:butt"/>
<path d="M759.6,126.3 L757.8,129.2" style="stroke-width:1.5;stroke-linecap:butt"/>
<path d="M756.7,124.4 L754.7,127.1" style="stroke-width:1.5;stroke-linecap:butt"/>
<path d="M754.0,122.3 L751.8,124.8" style="stroke-width:1.5;stroke-linecap:butt"/>
<path d="M753.1,118.2 L748.3,123.0" style="stroke-width:2.6;stroke-linecap:butt"/>
<path d="M752.5,118.8 L748.9,122.5" style="stroke:#fff;stroke-width:0.9;stroke-linecap:butt"/>
<path d="M749.0,117.4 L746.5,119.6" style="stroke-width:1.5;stroke-linecap:butt"/>
<path d="M746.9,114.6 L744.1,116.7" style="stroke-width:1.5;stroke-linecap:butt"/>
<path d="M744.9,111.8 L742.1,113.6" style="stroke-width:1.5;stroke-linecap:butt"/>
<path d="M743.2,108.8 L740.2,110.3" style="stroke-width:1.5;stroke-linecap:butt"/>
<path d="M744.0,104.7 L737.7,107.3" style="stroke-width:2.6;stroke-linecap:butt"/>
<path d="M743.2,105.0 L738.5,107.0" style="stroke:#fff;stroke-width:0.9;stroke-linecap:butt"/>
<path d="M740.6,102.4 L737.3,103.4" style="stroke-width:1.5;stroke-linecap:butt"/>
<path d="M739.6,99.0 L736.3,99.8" style="stroke-width:1.5;stroke-linecap:butt"/>
<path d="M738.9,95.6 L735.5,96.2" style="stroke-width:1.5;stroke-linecap:butt"/>
<path d="M738.5,92.2 L735.1,92.5" style="stroke-width:1.5;stroke-linecap:butt"/>
<path d="M740.7,88.7 L733.9,88.7" style="stroke-width:2.6;stroke-linecap:butt"/>
<path d="M739.9,88.7 L734.7,88.7" style="stroke:#fff;stroke-width:0.9;stroke-linecap:butt"/>
<path d="M738.4,85.2 L735.0,85.0" style="stroke-width:1.5;stroke-linecap:butt"/>
<path d="M738.8,81.8 L735.4,81.3" style="stroke-width:1.5;stroke-linecap:butt"/>
<path d="M739.4,78.4 L736.1,77.6" style="stroke-width:1.5;stroke-linecap:butt"/>
<path d="M740.4,75.0 L737.1,74.0" style="stroke-width:1.5;stroke-linecap:butt"/>
<path d="M743.8,72.7 L737.5,70.1" style="stroke-width:2.6;stroke-linecap:butt"/>
<path d="M743.0,72.4 L738.2,70.4" style="stroke:#fff;stroke-width:0.9;stroke-linecap:butt"/>
<path d="M743.0,68.6 L739.9,67.1" style="stroke-width:1.5;stroke-linecap:butt"/>
<path d="M744.6,65.6 L741.7,63.8" style="stroke-width:1.5;stroke-linecap:butt"/>
<path d="M746.5,62.7 L743.8,60.7" style="stroke-width:1.5;stroke-linecap:butt"/>
<path d="M748.6,59.9 L746.0,57.7" style="stroke-width:1.5;stroke-linecap:butt"/>
<path d="M752.7,59.0 L747.8,54.3" style="stroke-width:2.6;stroke-linecap:butt"/>
<path d="M752.1,58.5 L748.4,54.8" style="stroke:#fff;stroke-width:0.9;stroke-linecap:butt"/>
<path d="M753.5,55.0 L751.3,52.4" style="stroke-width:1.5;stroke-linecap:butt"/>
<path d="M756.2,52.8 L754.2,50.0" style="stroke-width:1.5;stroke-linecap:butt"/>
<path d="M759.1,50.8 L757.3,47.9" style="stroke-width:1.5;stroke-linecap:butt"/>
<path d="M762.1,49.1 L760.5,46.1" style="stroke-width:1.5;stroke-linecap:butt"/>
<path d="M766.2,49.8 L763.5,43.5" style="stroke-width:2.6;stroke-linecap:butt"/>
<path d="M765.8,49.1 L763.8,44.3" style="stroke:#fff;stroke-width:0.9;stroke-linecap:butt"/>
<path d="M768.5,46.3 L767.4,43.1" style="stroke-width:1.5;stroke-linecap:butt"/>
<path d="M771.8,45.4 L770.9,42.1" style="stroke-width:1.5;stroke-linecap:butt"/>
<path d="M775.2,44.6 L774.6,41.3" style="stroke-width:1.5;stroke-linecap:butt"/>
<path d="M778.6,44.2 L778.3,40.8" style="stroke-width:1.5;stroke-linecap:butt"/>
<path d="M782.1,46.4 L782.0,39.6" style="stroke-width:2.6;stroke-linecap:butt"/>
<path d="M782.1,45.6 L782.0,40.4" style="stroke:#fff;stroke-width:0.9;stroke-linecap:butt"/>
<path d="M785.5,44.1 L785.8,40.7" style="stroke-width:1.5;stroke-linecap:butt"/>
<path d="M789.0,44.4 L789.5,41.1" style="stroke-width:1.5;stroke-linecap:butt"/>
<path d="M792.4,45.1 L793.2,41.8" style="stroke-width:1.5;stroke-linecap:butt"/>
<path d="M795.8,46.0 L796.8,42.7" style="stroke-width:1.5;stroke-linecap:butt"/>
<path d="M798.2,49.3 L800.7,43.0" style="stroke-width:2.6;stroke-linecap:butt"/>
<path d="M798.5,48.6 L800.4,43.8" style="stroke:#fff;stroke-width:0.9;stroke-linecap:butt"/>
<path d="M802.2,48.5 L803.7,45.5" style="stroke-width:1.5;stroke-linecap:butt"/>
<path d="M805.3,50.2 L807.0,47.2" style="stroke-width:1.5;stroke-linecap:butt"/>
<path d="M808.2,52.0 L810.1,49.3" style="stroke-width:1.5;stroke-linecap:butt"/>
<path d="M811.0,54.1 L813.1,51.5" style="stroke-width:1.5;stroke-linecap:butt"/>
<path d="M811.9,58.2 L816.6,53.3" style="stroke-width:2.6;stroke-linecap:butt"/>
<path d="M812.4,57.6 L816.0,53.9" style="stroke:#fff;stroke-width:0.9;stroke-linecap:butt"/>
<text x="782.7" y="130.5" text-anchor="middle" class="dn">0</text>
<text x="768.0" y="127.6" text-anchor="middle" class="dn">1</text>
<text x="755.6" y="119.3" text-anchor="middle" class="dn">2</text>
<text x="747.2" y="106.9" text-anchor="middle" class="dn">3</text>
<text x="744.2" y="92.3" text-anchor="middle" class="dn">4</text>
<text x="747.0" y="77.6" text-anchor="middle" class="dn">5</text>
<text x="755.2" y="65.1" text-anchor="middle" class="dn">6</text>
<text x="767.5" y="56.6" text-anchor="middle" class="dn">7</text>
<text x="782.2" y="53.5" text-anchor="middle" class="dn">8</text>
<text x="796.9" y="56.2" text-anchor="middle" class="dn">9</text>
<text x="808.4" y="65.4" text-anchor="middle" class="dn">10</text>
<circle cx="782.7" cy="88.4" r="29" style="stroke-width:1.5;fill:#fff"/>
<circle cx="782.7" cy="88.4" r="26.6" style="stroke-width:1.2"/>
<path d="M789.5,85.6 L831.3,68.2" style="stroke-width:1.2"/>
<path d="M789.5,91.4 L831.3,108.6" style="stroke-width:1.2"/>
<circle cx="782.7" cy="88.4" r="7.6" style="stroke-width:1.6;fill:#fff"/>
<circle cx="812.8" cy="88.2" r="9.8" style="stroke-width:2;fill:#fff"/>
<circle cx="812.8" cy="88.2" r="7.4" style="stroke-width:1"/>
<path d="M808.6,84.6 L817.6,84.6 L817.6,87 L814.6,87 L814.6,91.5 Q815.5,93.5 817,93.8 L813.6,94.2 Q812,92.5 812.2,90.5 L812.2,87 L808.6,87 Z" style="stroke-width:1;fill:#fff"/>
<text x="784" y="69.4" text-anchor="middle" textLength="25" lengthAdjust="spacingAndGlyphs" style="font-size:6px;font-weight:bold;fill:#000;stroke:#000;stroke-width:.3" class="lb">KYMCO</text>
<text x="0" y="0" text-anchor="middle" transform="translate(801.3,127.4) rotate(-25.5)" style="font-size:5.4px;font-weight:bold;fill:#000;stroke:#000;stroke-width:.25" class="lb">X</text>
<text x="0" y="0" text-anchor="middle" transform="translate(804.6,125.6) rotate(-30.5)" style="font-size:5.4px;font-weight:bold;fill:#000;stroke:#000;stroke-width:.25" class="lb">1</text>
<text x="0" y="0" text-anchor="middle" transform="translate(807.8,123.6) rotate(-35.5)" style="font-size:5.4px;font-weight:bold;fill:#000;stroke:#000;stroke-width:.25" class="lb">0</text>
<text x="0" y="0" text-anchor="middle" transform="translate(810.8,121.2) rotate(-40.5)" style="font-size:5.4px;font-weight:bold;fill:#000;stroke:#000;stroke-width:.25" class="lb">0</text>
<text x="0" y="0" text-anchor="middle" transform="translate(813.5,118.7) rotate(-45.5)" style="font-size:5.4px;font-weight:bold;fill:#000;stroke:#000;stroke-width:.25" class="lb">0</text>
<text x="0" y="0" text-anchor="middle" transform="translate(816.0,115.9) rotate(-50.5)" style="font-size:5.4px;font-weight:bold;fill:#000;stroke:#000;stroke-width:.25" class="lb">R</text>
<text x="0" y="0" text-anchor="middle" transform="translate(818.3,112.9) rotate(-55.5)" style="font-size:5.4px;font-weight:bold;fill:#000;stroke:#000;stroke-width:.25" class="lb">P</text>
<text x="0" y="0" text-anchor="middle" transform="translate(820.3,109.7) rotate(-60.5)" style="font-size:5.4px;font-weight:bold;fill:#000;stroke:#000;stroke-width:.25" class="lb">M</text>
<rect x="856.2" y="18.2" width="115.8" height="86.3" style="stroke-width:1.4;fill:#fff"/>
<rect x="859.6" y="18.2" width="109" height="4.4" style="stroke-width:1;fill:#fff"/>
<rect x="862.3" y="24.3" width="104.6" height="76.1" style="stroke-width:2;fill:#fff"/>
<path d="M858,26 L858,68 Q858.5,71 860.5,68 L860.5,26 M968.6,26 L968.6,42 M970.6,26 L970.6,42" style="stroke-width:1"/>
<rect x="972.6" y="40.5" width="20.399999999999977" height="24.0" rx="3" style="stroke-width:1.2;fill:#fff"/>
<rect x="975.2" y="43.3" width="15.199999999999978" height="18.4" rx="2.2" style="stroke-width:3;fill:#fff"/>
<rect x="979.2" y="47.1" width="7.199999999999978" height="10.8" style="stroke-width:1.6;fill:#fff"/>
<text x="982.8" y="69.3" text-anchor="middle" style="font-size:5px;font-weight:bold;fill:#000;stroke:none" class="lb">MODE</text>
<rect x="972.6" y="74" width="20.399999999999977" height="23.5" rx="3" style="stroke-width:1.2;fill:#fff"/>
<rect x="975.2" y="76.8" width="15.199999999999978" height="17.9" rx="2.2" style="stroke-width:3;fill:#fff"/>
<rect x="979.2" y="80.6" width="7.199999999999978" height="10.3" style="stroke-width:1.6;fill:#fff"/>
<text x="982.8" y="102.6" text-anchor="middle" style="font-size:5px;font-weight:bold;fill:#000;stroke:none" class="lb">ADJ.</text>
<path d="M863,106.5 L966,106.5 Q970,107 969.6,110.5 Q969,114 965,115.5 L865,136.3 Q860.5,137 860.3,132.5 L860.3,109.5 Q860.5,106.5 863,106.5 Z" style="stroke-width:1.4;fill:#fff"/>
<path d="M863.3,110 L863.3,131 Q863.5,133.5 866,133 L964,112.6 Q966.5,111.8 966.5,109.8" style="stroke-width:1"/>
<text x="873.6" y="124.6" text-anchor="middle" style="font-size:13px;font-weight:bold;fill:#fff;stroke:#000;stroke-width:1" class="lb">N</text>
<path d="M887.0,117.6 L892.5,113.0 L892.5,115.39999999999999 L898.6,115.39999999999999 L898.6,119.8 L892.5,119.8 L892.5,122.19999999999999 Z" style="stroke-width:1.3;fill:#fff"/>
<path d="M918.0,116.8 L912.5,112.2 L912.5,114.6 L906.4,114.6 L906.4,119.0 L912.5,119.0 L912.5,121.39999999999999 Z" style="stroke-width:1.3;fill:#fff"/>
<path d="M930.5,111.5 L934,111.5 Q938.6,112 938.6,115.6 Q938.6,119.4 934,119.8 L930.5,119.8 Z" style="stroke-width:1.3;fill:#fff"/>
<rect x="925.2" y="111.6" width="4.4" height="8.2" class="k"/>
<path d="M883.5,30.5 L886.0,28.1 L887.7,30.5 L886.1,41.2 L883.7,43.6 L881.9,41.2 Z" style="stroke-width:1.1;fill:#fff"/>
<path d="M881.2,46.3 L883.6,43.9 L885.4,46.3 L883.8,57.0 L881.3,59.4 L879.6,57.0 Z" style="stroke-width:1.1;fill:#fff"/>
<path d="M898.0,27.6 L910.7,27.6 L912.9,29.8 L910.1,32.0 L897.3,32.0 L895.1,29.8 Z" style="stroke-width:1.1;fill:#fff"/>
<path d="M908.6,30.2 L911.1,27.7 L913.0,30.2 L911.3,41.2 L908.7,43.7 L906.9,41.2 Z" style="stroke-width:1.1;fill:#fff"/>
<path d="M906.1,46.4 L908.7,43.9 L910.5,46.4 L908.9,57.4 L906.3,59.9 L904.5,57.4 Z" style="stroke-width:1.1;fill:#fff"/>
<path d="M893.8,55.6 L906.5,55.6 L908.7,57.8 L905.9,60.0 L893.1,60.0 L890.9,57.8 Z" style="stroke-width:1.1;fill:#fff"/>
<path d="M892.5,46.4 L895.1,43.9 L896.9,46.4 L895.3,57.4 L892.7,59.9 L890.9,57.4 Z" style="stroke-width:1.1;fill:#fff"/>
<path d="M895.0,30.2 L897.5,27.7 L899.4,30.2 L897.7,41.2 L895.1,43.7 L893.3,41.2 Z" style="stroke-width:1.1;fill:#fff"/>
<path d="M895.9,41.6 L908.6,41.6 L910.8,43.8 L908.0,46.0 L895.2,46.0 L893.0,43.8 Z" style="stroke-width:1.1;fill:#fff"/>
<path d="M923.6,27.6 L938.6,27.6 L940.9,29.9 L937.9,32.2 L922.9,32.2 L920.6,29.9 Z" style="stroke-width:1.1;fill:#fff"/>
<path d="M936.3,30.4 L939.0,27.7 L940.9,30.4 L939.3,41.0 L936.6,43.7 L934.7,41.0 Z" style="stroke-width:1.1;fill:#fff"/>
<path d="M933.9,46.6 L936.6,43.9 L938.5,46.6 L936.9,57.2 L934.2,59.9 L932.3,57.2 Z" style="stroke-width:1.1;fill:#fff"/>
<path d="M919.5,55.4 L934.4,55.4 L936.7,57.7 L933.7,60.0 L918.8,60.0 L916.4,57.7 Z" style="stroke-width:1.1;fill:#fff"/>
<path d="M918.0,46.6 L920.7,43.9 L922.6,46.6 L921.0,57.2 L918.3,59.9 L916.4,57.2 Z" style="stroke-width:1.1;fill:#fff"/>
<path d="M920.4,30.4 L923.1,27.7 L925.0,30.4 L923.4,41.0 L920.7,43.7 L918.8,41.0 Z" style="stroke-width:1.1;fill:#fff"/>
<path d="M921.5,41.5 L936.5,41.5 L938.8,43.8 L935.8,46.1 L920.8,46.1 L918.5,43.8 Z" style="stroke-width:1.1;fill:#fff"/>
<text x="941.6" y="53.2" style="font-size:6.4px;font-weight:bold;font-style:italic;fill:#000;stroke:#000;stroke-width:.3" class="lb">mph</text>
<text x="939.2" y="60.4" style="font-size:6.4px;font-weight:bold;font-style:italic;fill:#000;stroke:#000;stroke-width:.3" class="lb">km/h</text>
<text x="871.6" y="77" style="font-size:10px;font-weight:bold;font-style:italic;fill:#000;stroke:#000;stroke-width:.4;letter-spacing:-1.6px" class="lb">PM</text>
<path d="M889.6,67.0 L894.6,67.0 L895.9,68.2 L894.3,69.5 L889.3,69.5 L888.1,68.2 Z" style="stroke-width:1.4;fill:#fff"/>
<path d="M893.4,68.5 L894.9,67.1 L895.9,68.5 L895.5,71.0 L894.1,72.4 L893.0,71.0 Z" style="stroke-width:1.4;fill:#fff"/>
<path d="M892.6,74.0 L894.1,72.6 L895.1,74.0 L894.7,76.5 L893.3,77.9 L892.2,76.5 Z" style="stroke-width:1.4;fill:#fff"/>
<path d="M888.4,75.5 L893.4,75.5 L894.6,76.8 L893.0,78.0 L888.0,78.0 L886.8,76.8 Z" style="stroke-width:1.4;fill:#fff"/>
<path d="M887.1,74.0 L888.6,72.6 L889.6,74.0 L889.2,76.5 L887.8,77.9 L886.7,76.5 Z" style="stroke-width:1.4;fill:#fff"/>
<path d="M887.9,68.5 L889.4,67.1 L890.4,68.5 L890.0,71.0 L888.6,72.4 L887.5,71.0 Z" style="stroke-width:1.4;fill:#fff"/>
<path d="M889.0,71.2 L894.0,71.2 L895.2,72.5 L893.6,73.8 L888.6,73.8 L887.4,72.5 Z" style="stroke-width:1.4;fill:#fff"/>
<circle cx="898.6" cy="70.4" r="1" class="k"/><circle cx="898" cy="75" r="1" class="k"/>
<path d="M903.9,67.0 L909.5,67.0 L910.8,68.2 L909.2,69.5 L903.6,69.5 L902.4,68.2 Z" style="stroke-width:1.4;fill:#fff"/>
<path d="M908.3,68.5 L909.8,67.1 L910.8,68.5 L910.4,71.0 L909.0,72.4 L907.9,71.0 Z" style="stroke-width:1.4;fill:#fff"/>
<path d="M907.5,74.0 L909.0,72.6 L910.0,74.0 L909.6,76.5 L908.2,77.9 L907.1,76.5 Z" style="stroke-width:1.4;fill:#fff"/>
<path d="M902.7,75.5 L908.3,75.5 L909.5,76.8 L907.9,78.0 L902.3,78.0 L901.1,76.8 Z" style="stroke-width:1.4;fill:#fff"/>
<path d="M901.4,74.0 L902.9,72.6 L903.9,74.0 L903.5,76.5 L902.1,77.9 L901.0,76.5 Z" style="stroke-width:1.4;fill:#fff"/>
<path d="M902.2,68.5 L903.7,67.1 L904.7,68.5 L904.3,71.0 L902.9,72.4 L901.8,71.0 Z" style="stroke-width:1.4;fill:#fff"/>
<path d="M903.3,71.2 L908.9,71.2 L910.1,72.5 L908.5,73.8 L902.9,73.8 L901.7,72.5 Z" style="stroke-width:1.4;fill:#fff"/>
<path d="M915.5,67.0 L921.1,67.0 L922.4,68.2 L920.8,69.5 L915.2,69.5 L914.0,68.2 Z" style="stroke-width:1.4;fill:#fff"/>
<path d="M919.9,68.5 L921.4,67.1 L922.4,68.5 L922.0,71.0 L920.6,72.4 L919.5,71.0 Z" style="stroke-width:1.4;fill:#fff"/>
<path d="M919.1,74.0 L920.6,72.6 L921.6,74.0 L921.2,76.5 L919.8,77.9 L918.7,76.5 Z" style="stroke-width:1.4;fill:#fff"/>
<path d="M914.3,75.5 L919.9,75.5 L921.1,76.8 L919.5,78.0 L913.9,78.0 L912.7,76.8 Z" style="stroke-width:1.4;fill:#fff"/>
<path d="M913.0,74.0 L914.5,72.6 L915.5,74.0 L915.1,76.5 L913.7,77.9 L912.6,76.5 Z" style="stroke-width:1.4;fill:#fff"/>
<path d="M913.8,68.5 L915.3,67.1 L916.3,68.5 L915.9,71.0 L914.5,72.4 L913.4,71.0 Z" style="stroke-width:1.4;fill:#fff"/>
<path d="M914.9,71.2 L920.5,71.2 L921.7,72.5 L920.1,73.8 L914.5,73.8 L913.3,72.5 Z" style="stroke-width:1.4;fill:#fff"/>
<text x="866.4" y="88.8" style="font-size:4.7px;letter-spacing:-.2px;font-weight:bold;fill:#000;stroke:none" class="lb">TRIP</text>
<text x="866.4" y="93.6" style="font-size:4.7px;letter-spacing:-.2px;font-weight:bold;fill:#000;stroke:none" class="lb">ODO</text>
<path d="M883.1,84.2 L886.6,84.2 L887.6,85.2 L886.3,86.3 L882.8,86.3 L881.8,85.2 Z" style="stroke-width:1.3;fill:#fff"/>
<path d="M885.6,85.5 L886.8,84.3 L887.7,85.5 L887.3,88.0 L886.1,89.2 L885.2,88.0 Z" style="stroke-width:1.3;fill:#fff"/>
<path d="M884.8,90.6 L886.1,89.4 L886.9,90.6 L886.6,93.1 L885.4,94.3 L884.5,93.1 Z" style="stroke-width:1.3;fill:#fff"/>
<path d="M882.0,92.3 L885.4,92.3 L886.4,93.4 L885.1,94.4 L881.7,94.4 L880.6,93.4 Z" style="stroke-width:1.3;fill:#fff"/>
<path d="M880.9,90.6 L882.1,89.4 L883.0,90.6 L882.7,93.1 L881.5,94.3 L880.6,93.1 Z" style="stroke-width:1.3;fill:#fff"/>
<path d="M881.7,85.5 L882.9,84.3 L883.8,85.5 L883.4,88.0 L882.2,89.2 L881.3,88.0 Z" style="stroke-width:1.3;fill:#fff"/>
<path d="M882.5,88.2 L886.0,88.2 L887.0,89.3 L885.7,90.3 L882.2,90.3 L881.2,89.3 Z" style="stroke-width:1.3;fill:#fff"/>
<path d="M890.1,84.2 L893.6,84.2 L894.6,85.2 L893.3,86.3 L889.8,86.3 L888.8,85.2 Z" style="stroke-width:1.3;fill:#fff"/>
<path d="M892.6,85.5 L893.8,84.3 L894.7,85.5 L894.3,88.0 L893.1,89.2 L892.2,88.0 Z" style="stroke-width:1.3;fill:#fff"/>
<path d="M891.9,90.6 L893.1,89.4 L894.0,90.6 L893.6,93.1 L892.4,94.3 L891.5,93.1 Z" style="stroke-width:1.3;fill:#fff"/>
<path d="M889.0,92.3 L892.5,92.3 L893.5,93.4 L892.2,94.4 L888.7,94.4 L887.7,93.4 Z" style="stroke-width:1.3;fill:#fff"/>
<path d="M888.0,90.6 L889.2,89.4 L890.1,90.6 L889.7,93.1 L888.5,94.3 L887.6,93.1 Z" style="stroke-width:1.3;fill:#fff"/>
<path d="M888.7,85.5 L889.9,84.3 L890.8,85.5 L890.4,88.0 L889.2,89.2 L888.3,88.0 Z" style="stroke-width:1.3;fill:#fff"/>
<path d="M889.6,88.2 L893.1,88.2 L894.1,89.3 L892.8,90.3 L889.3,90.3 L888.3,89.3 Z" style="stroke-width:1.3;fill:#fff"/>
<path d="M897.2,84.2 L900.7,84.2 L901.7,85.2 L900.4,86.3 L896.9,86.3 L895.9,85.2 Z" style="stroke-width:1.3;fill:#fff"/>
<path d="M899.7,85.5 L900.9,84.3 L901.8,85.5 L901.4,88.0 L900.2,89.2 L899.3,88.0 Z" style="stroke-width:1.3;fill:#fff"/>
<path d="M898.9,90.6 L900.1,89.4 L901.0,90.6 L900.7,93.1 L899.5,94.3 L898.6,93.1 Z" style="stroke-width:1.3;fill:#fff"/>
<path d="M896.1,92.3 L899.5,92.3 L900.5,93.4 L899.2,94.4 L895.8,94.4 L894.7,93.4 Z" style="stroke-width:1.3;fill:#fff"/>
<path d="M895.0,90.6 L896.2,89.4 L897.1,90.6 L896.8,93.1 L895.6,94.3 L894.7,93.1 Z" style="stroke-width:1.3;fill:#fff"/>
<path d="M895.8,85.5 L897.0,84.3 L897.9,85.5 L897.5,88.0 L896.3,89.2 L895.4,88.0 Z" style="stroke-width:1.3;fill:#fff"/>
<path d="M896.6,88.2 L900.1,88.2 L901.1,89.3 L899.8,90.3 L896.3,90.3 L895.3,89.3 Z" style="stroke-width:1.3;fill:#fff"/>
<path d="M904.2,84.2 L907.7,84.2 L908.7,85.2 L907.4,86.3 L903.9,86.3 L902.9,85.2 Z" style="stroke-width:1.3;fill:#fff"/>
<path d="M906.7,85.5 L907.9,84.3 L908.8,85.5 L908.4,88.0 L907.2,89.2 L906.3,88.0 Z" style="stroke-width:1.3;fill:#fff"/>
<path d="M906.0,90.6 L907.2,89.4 L908.1,90.6 L907.7,93.1 L906.5,94.3 L905.6,93.1 Z" style="stroke-width:1.3;fill:#fff"/>
<path d="M903.1,92.3 L906.6,92.3 L907.6,93.4 L906.3,94.4 L902.8,94.4 L901.8,93.4 Z" style="stroke-width:1.3;fill:#fff"/>
<path d="M902.1,90.6 L903.3,89.4 L904.2,90.6 L903.8,93.1 L902.6,94.3 L901.7,93.1 Z" style="stroke-width:1.3;fill:#fff"/>
<path d="M902.8,85.5 L904.0,84.3 L904.9,85.5 L904.5,88.0 L903.3,89.2 L902.4,88.0 Z" style="stroke-width:1.3;fill:#fff"/>
<path d="M903.7,88.2 L907.2,88.2 L908.2,89.3 L906.9,90.3 L903.4,90.3 L902.4,89.3 Z" style="stroke-width:1.3;fill:#fff"/>
<path d="M911.3,84.2 L914.8,84.2 L915.8,85.2 L914.5,86.3 L911.0,86.3 L910.0,85.2 Z" style="stroke-width:1.3;fill:#fff"/>
<path d="M913.8,85.5 L915.0,84.3 L915.9,85.5 L915.5,88.0 L914.3,89.2 L913.4,88.0 Z" style="stroke-width:1.3;fill:#fff"/>
<path d="M913.0,90.6 L914.2,89.4 L915.1,90.6 L914.8,93.1 L913.6,94.3 L912.7,93.1 Z" style="stroke-width:1.3;fill:#fff"/>
<path d="M910.2,92.3 L913.6,92.3 L914.6,93.4 L913.3,94.4 L909.9,94.4 L908.8,93.4 Z" style="stroke-width:1.3;fill:#fff"/>
<path d="M909.1,90.6 L910.3,89.4 L911.2,90.6 L910.9,93.1 L909.7,94.3 L908.8,93.1 Z" style="stroke-width:1.3;fill:#fff"/>
<path d="M909.9,85.5 L911.1,84.3 L912.0,85.5 L911.6,88.0 L910.4,89.2 L909.5,88.0 Z" style="stroke-width:1.3;fill:#fff"/>
<path d="M910.7,88.2 L914.2,88.2 L915.2,89.3 L913.9,90.3 L910.4,90.3 L909.4,89.3 Z" style="stroke-width:1.3;fill:#fff"/>
<circle cx="915.5" cy="93.6" r="0.8" class="k"/>
<path d="M918.9,84.2 L922.4,84.2 L923.4,85.2 L922.1,86.3 L918.6,86.3 L917.6,85.2 Z" style="stroke-width:1.3;fill:#fff"/>
<path d="M921.4,85.5 L922.6,84.3 L923.5,85.5 L923.1,88.0 L921.9,89.2 L921.0,88.0 Z" style="stroke-width:1.3;fill:#fff"/>
<path d="M920.7,90.6 L921.9,89.4 L922.8,90.6 L922.4,93.1 L921.2,94.3 L920.3,93.1 Z" style="stroke-width:1.3;fill:#fff"/>
<path d="M917.8,92.3 L921.3,92.3 L922.3,93.4 L921.0,94.4 L917.5,94.4 L916.5,93.4 Z" style="stroke-width:1.3;fill:#fff"/>
<path d="M916.8,90.6 L918.0,89.4 L918.9,90.6 L918.5,93.1 L917.3,94.3 L916.4,93.1 Z" style="stroke-width:1.3;fill:#fff"/>
<path d="M917.5,85.5 L918.7,84.3 L919.6,85.5 L919.2,88.0 L918.0,89.2 L917.1,88.0 Z" style="stroke-width:1.3;fill:#fff"/>
<path d="M918.4,88.2 L921.9,88.2 L922.9,89.3 L921.6,90.3 L918.1,90.3 L917.1,89.3 Z" style="stroke-width:1.3;fill:#fff"/>
<path d="M928.4,96.3 A19,19 0 1 1 960.6,96.3 L955.7,93.2 A13.2,13.2 0 1 0 933.3,93.2 Z" style="stroke-width:1.3;fill:#fff"/>
<path d="M931.4,84.4 L925.7,83.6" style="stroke-width:1.1"/>
<path d="M935.2,76.9 L931.1,72.8" style="stroke-width:1.1"/>
<path d="M940.0,73.8 L938.0,68.3" style="stroke-width:1.1"/>
<path d="M949.0,73.8 L951.0,68.3" style="stroke-width:1.1"/>
<path d="M953.8,76.9 L957.9,72.8" style="stroke-width:1.1"/>
<path d="M957.6,84.4 L963.3,83.6" style="stroke-width:1.1"/>
<rect x="940.4" y="78.2" width="9.6" height="9.4" style="stroke-width:1.2;fill:#fff"/>
<text x="945.3" y="86.6" text-anchor="middle" style="font-size:9px;font-weight:bold;fill:#fff;stroke:#000;stroke-width:.8" class="lb">B</text>
<text x="936.4" y="91.6" style="font-size:4px;font-weight:bold;fill:#000;stroke:none" class="lb">E</text>
<text x="951.6" y="91.6" style="font-size:4px;font-weight:bold;fill:#000;stroke:none" class="lb">F</text>
</g>


<g id="frame" fill="none" stroke="#000" stroke-width="4" stroke-linejoin="miter">
<path d="M295.4,72.8 L669.4,72.8 L669.4,211.2 L532,346.5 L532,406 L402,581.8 L184.4,581.8 L68.7,405.3 L68.7,262 Z" stroke-width="3.9"/>
<path d="M68.7,263 L68.7,404.5" stroke-width="5.3"/>
<path d="M437.5,41.5 L437.5,72.8"/>
<path d="M572,180 L531,209" stroke-width="3.4"/>
<path d="M752.2,413.4 L772.6,413.4"/>
<path d="M719,678.3 L719,689.8"/>
</g>
<g id="labels">
<text x="398" y="29" font-size="27" class="lb">37200</text>
<text x="582" y="188" font-size="27" class="lb">37213</text>
<text x="786.3" y="420.7" font-size="27" class="lb">44830</text>
<text x="681.3" y="723" font-size="27" class="lb">93700</text>
<text x="411" y="626" font-size="27" class="lb">80101</text>
<text x="411" y="653" font-size="27" class="lb">94103</text>
<text x="406.3" y="679.3" font-size="27" class="lb">84706</text>
<text x="400.8" y="709" font-size="27" class="lb">93903</text>
</g>
</svg>
</body></html>
